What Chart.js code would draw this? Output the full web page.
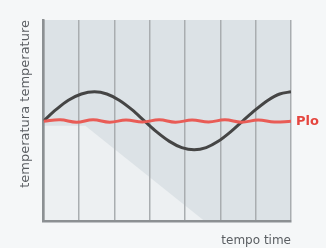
<!DOCTYPE html>
<html>
<head>
<meta charset="utf-8">
<script src="https://cdn.jsdelivr.net/npm/chart.js@4.4.0/dist/chart.umd.min.js"></script>
<style>
  html,body{margin:0;padding:0;background:#f5f7f8;}
  #wrap{width:326px;height:248px;}
</style>
</head>
<body>
<div id="wrap"><canvas id="c" width="326" height="248"></canvas></div>
<script>
// values (x in grid columns 0..7, y on a 0..10 scale)
const tempX = [0, 0.35, 0.7, 1.07, 1.44, 1.79, 2.14, 2.5, 2.85, 3.2, 3.56, 3.91, 4.26, 4.6, 4.94, 5.29, 5.64, 6.0, 6.35, 6.68, 7];
const tempY = [5.0, 5.55, 6.02, 6.33, 6.44, 6.33, 6.02, 5.55, 5.0, 4.45, 3.98, 3.67, 3.56, 3.67, 3.98, 4.45, 5.0, 5.55, 6.02, 6.33, 6.44];

const leadX = [0, 0.47, 0.93, 1.4, 1.87, 2.33, 2.8, 3.27, 3.73, 4.2, 4.67, 5.13, 5.6, 6.07, 6.53, 7];
const leadY = [4.98, 5.05, 4.93, 5.05, 4.93, 5.04, 4.94, 5.05, 4.93, 5.04, 4.94, 5.05, 4.93, 5.04, 4.94, 4.98];
const leadLabel = 'Plo';

// lighter lower-left patch of the background
const shadeX = [0, 1.18, 4.57, 0];
const shadeY = [4.75, 4.75, 0, 0];

const yTitle = 'temperatura temperature';
const xTitle = 'tempo time';

const pts = (xs, ys) => xs.map((x, i) => ({x, y: ys[i]}));

const bgPlugin = {
  id: 'bg',
  beforeDraw(chart){
    const {ctx, chartArea:a, scales:{x, y}} = chart;
    ctx.save();
    ctx.fillStyle = '#f5f7f8';
    ctx.fillRect(0, 0, chart.width, chart.height);
    ctx.fillStyle = '#dce2e6';
    ctx.fillRect(a.left, a.top, a.right - a.left, a.bottom - a.top);
    ctx.fillStyle = '#edf0f2';
    ctx.beginPath();
    shadeX.forEach((v, i) => {
      const px = x.getPixelForValue(v), py = y.getPixelForValue(shadeY[i]);
      i ? ctx.lineTo(px, py) : ctx.moveTo(px, py);
    });
    ctx.closePath();
    ctx.fill();
    ctx.restore();
  },
  afterDatasetsDraw(chart){
    const {ctx, scales:{x, y}} = chart;
    const n = leadX.length - 1;
    ctx.save();
    ctx.fillStyle = '#e5463f';
    ctx.font = 'bold 13px "DejaVu Sans"';
    ctx.textBaseline = 'middle';
    ctx.fillText(leadLabel, x.getPixelForValue(leadX[n]) + 5, y.getPixelForValue(leadY[n]));
    ctx.restore();
  }
};

new Chart(document.getElementById('c'), {
  type: 'line',
  data: {
    datasets: [
      {data: pts(leadX, leadY), borderColor: '#e95c56', borderWidth: 3, pointRadius: 0, tension: 0.4},
      {data: pts(tempX, tempY), borderColor: '#454545', borderWidth: 3, pointRadius: 0, cubicInterpolationMode: 'monotone'}
    ]
  },
  plugins: [bgPlugin],
  options: {
    responsive: false,
    animation: false,
    events: [],
    layout: {padding: {left: 14, right: 35, top: 20, bottom: 0}},
    plugins: {legend: {display: false}, tooltip: {enabled: false}},
    scales: {
      x: {
        type: 'linear', min: 0, max: 7,
        ticks: {display: false, stepSize: 1},
        grid: {color: '#a9adb0', lineWidth: 1.5, drawTicks: false},
        border: {color: '#8c9093', width: 2.5},
        title: {display: true, text: xTitle, align: 'end', color: '#5a5e62',
                font: {family: 'DejaVu Sans', size: 12}, padding: {top: 12, bottom: 0}}
      },
      y: {
        min: 0, max: 10,
        ticks: {display: false},
        grid: {display: false, drawTicks: false},
        border: {color: '#8c9093', width: 2.5},
        title: {display: true, text: yTitle, align: 'end', color: '#5a5e62',
                font: {family: 'DejaVu Sans', size: 13}, padding: {top: 4, bottom: 10}}
      }
    }
  }
});
</script>
</body>
</html>
